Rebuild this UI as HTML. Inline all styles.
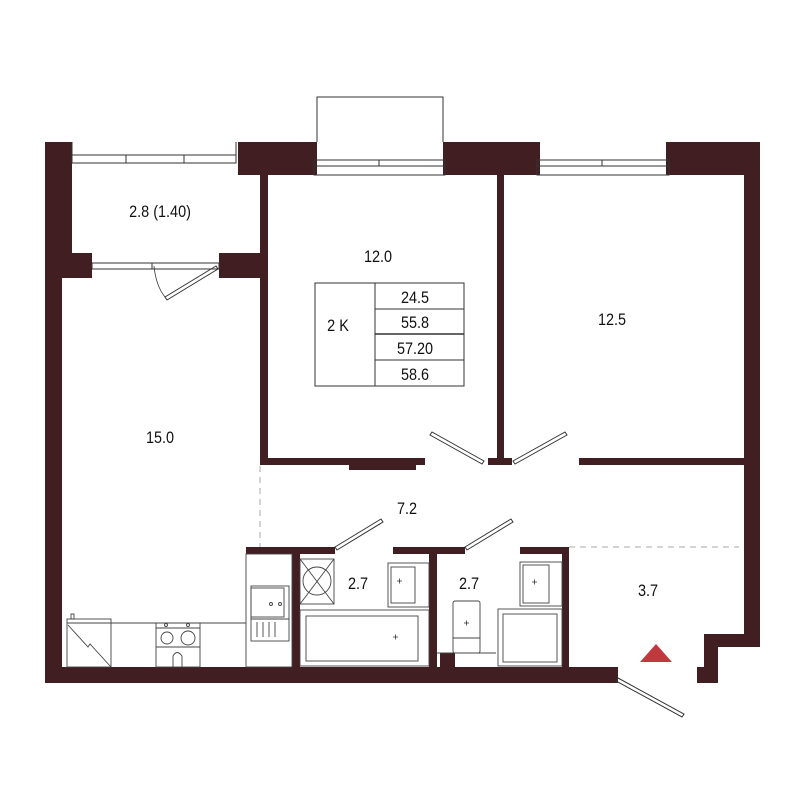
<!DOCTYPE html>
<html><head><meta charset="utf-8"><style>
html,body{margin:0;padding:0;background:#fff;}
svg{display:block;}
text{font-family:"Liberation Sans",sans-serif;fill:#111;}
</style></head><body>
<svg width="800" height="800" viewBox="0 0 800 800" xmlns="http://www.w3.org/2000/svg">
<g fill="#401e22">
<rect x="45" y="142" width="27" height="136"/>
<rect x="45" y="253" width="47" height="25"/>
<rect x="219" y="253" width="41" height="25"/>
<rect x="238" y="142" width="79" height="33"/>
<rect x="443" y="142" width="97" height="33"/>
<rect x="666" y="142" width="94" height="33"/>
<rect x="45" y="142" width="17" height="540"/>
<rect x="744" y="142" width="16" height="505"/>
<rect x="704" y="634" width="56" height="13"/>
<rect x="704" y="634" width="14" height="49"/>
<rect x="697" y="667" width="21" height="16"/>
<rect x="45" y="667" width="573" height="16"/>
<rect x="260" y="175" width="8" height="290"/>
<rect x="260" y="458" width="165" height="7"/>
<rect x="349" y="458" width="67" height="12"/>
<rect x="497" y="175" width="7" height="290"/>
<rect x="488" y="458" width="24" height="7"/>
<rect x="579" y="458" width="166" height="7"/>
<rect x="246" y="547" width="89" height="7"/>
<rect x="393" y="547" width="72" height="7"/>
<rect x="520" y="547" width="49" height="7"/>
<rect x="292" y="547" width="8" height="120"/>
<rect x="429" y="547" width="8" height="120"/>
<rect x="562" y="547" width="7" height="120"/>
<rect x="440" y="653" width="15" height="14"/>
</g>
<g fill="none" stroke="#333" stroke-width="1">
<polyline points="317,142 317,97 443,97 443,142"/>
<rect x="72" y="155" width="164" height="8"/>
<line x1="126" y1="155" x2="126" y2="163"/><line x1="184" y1="155" x2="184" y2="163"/>
<line x1="72" y1="142" x2="72" y2="155"/><line x1="236" y1="142" x2="236" y2="155"/>
<rect x="314" y="160" width="131" height="6"/><rect x="314" y="166" width="131" height="9"/>
<line x1="379" y1="160" x2="379" y2="166"/>
<rect x="537" y="160" width="132" height="6"/><rect x="537" y="166" width="132" height="9"/>
<line x1="602" y1="160" x2="602" y2="166"/>
<rect x="92" y="263" width="127" height="6"/>
<line x1="152" y1="263" x2="152" y2="269"/>
<path d="M216,266 L165,297 L167,300 L218,269 Z"/>
<path d="M154,266 Q156,286 165,297" stroke-width="0.8"/>
<path d="M484,461 L432,432 L430,435 L482,464 Z"/>
<path d="M513,461 L565,432 L567,435 L515,464 Z"/>
<path d="M335,547 L381,519 L383,522 L337,550 Z"/>
<path d="M465,547 L511,519 L513,522 L467,550 Z"/>
<path d="M618,678 L684,714 L682,717 L616,681 Z"/>
<rect x="315" y="283" width="149" height="103"/>
<line x1="375" y1="283" x2="375" y2="386"/>
<line x1="375" y1="309" x2="464" y2="309"/>
<line x1="375" y1="334" x2="464" y2="334" stroke-width="1.6"/>
<line x1="375" y1="360" x2="464" y2="360"/>
</g>
<g fill="none" stroke="#aaa" stroke-width="1" stroke-dasharray="6,5">
<line x1="260" y1="466" x2="260" y2="547"/>
<line x1="569" y1="547" x2="739" y2="547"/>
</g>
<g fill="none" stroke="#444" stroke-width="0.9">
<line x1="111" y1="623" x2="246" y2="623"/>
<rect x="67" y="619" width="44" height="48"/><line x1="67" y1="623" x2="111" y2="623"/>
<polyline points="68,625 88,647 90,644 111,667"/>
<rect x="71" y="614" width="3" height="5"/>
<rect x="156" y="623" width="44" height="44"/>
<line x1="156" y1="628" x2="200" y2="628"/><line x1="156" y1="647" x2="200" y2="647"/>
<circle cx="167" cy="638" r="6"/><circle cx="188" cy="638" r="7"/>
<circle cx="166" cy="625" r="1.5"/><circle cx="188" cy="625" r="1.5"/>
<path d="M173,667 L173,656 Q177,649 182,656 L182,667"/>
<rect x="246" y="554" width="46" height="113"/>
<rect x="251" y="586" width="38" height="33"/>
<rect x="251" y="588" width="33" height="29"/>
<circle cx="271" cy="604" r="1.5"/><circle cx="280" cy="604" r="1.5"/>
<rect x="251" y="619" width="38" height="22"/>
<line x1="257" y1="622" x2="257" y2="637"/><line x1="263" y1="622" x2="263" y2="637"/><line x1="269" y1="622" x2="269" y2="637"/><line x1="275" y1="622" x2="275" y2="637"/>
<rect x="300" y="559" width="34" height="45"/>
<line x1="300" y1="559" x2="334" y2="604"/><line x1="334" y1="559" x2="300" y2="604"/>
<circle cx="317" cy="581" r="14"/>
<rect x="388" y="563" width="41" height="44"/><rect x="391" y="567" width="24" height="36"/>
<rect x="300" y="610" width="129" height="56"/><rect x="306" y="616" width="112" height="45"/>
<rect x="453" y="601" width="27" height="52" rx="2"/><line x1="453" y1="638" x2="480" y2="638"/>
<line x1="437" y1="653" x2="496" y2="653"/>
<rect x="520" y="562" width="42" height="44"/><rect x="523" y="565" width="26" height="38"/>
<rect x="498" y="609" width="64" height="57"/><rect x="503" y="614" width="54" height="48"/>
</g>
<g stroke="#333" stroke-width="0.8">
<path d="M397,581h5M399.5,578.5v5M393,637h5M395.5,634.5v5M464,623h5M466.5,620.5v5M532,582h5M534.5,579.5v5"/>
</g>
<polygon points="640,662 656,644 672,662" fill="#c0393f"/>
<g font-size="17" text-anchor="middle">
<text transform="translate(160 217) scale(0.85 1)">2.8 (1.40)</text>
<text transform="translate(378 262) scale(0.85 1)">12.0</text>
<text transform="translate(338 331) scale(0.85 1)">2 K</text>
<text transform="translate(415 303) scale(0.85 1)">24.5</text>
<text transform="translate(415 328) scale(0.85 1)">55.8</text>
<text transform="translate(415 354) scale(0.85 1)">57.20</text>
<text transform="translate(415 380) scale(0.85 1)">58.6</text>
<text transform="translate(612 325) scale(0.85 1)">12.5</text>
<text transform="translate(160 443) scale(0.85 1)">15.0</text>
<text transform="translate(407 514) scale(0.85 1)">7.2</text>
<text transform="translate(358 589) scale(0.85 1)">2.7</text>
<text transform="translate(469 589) scale(0.85 1)">2.7</text>
<text transform="translate(648 596) scale(0.85 1)">3.7</text>
</g>
</svg>
</body></html>
